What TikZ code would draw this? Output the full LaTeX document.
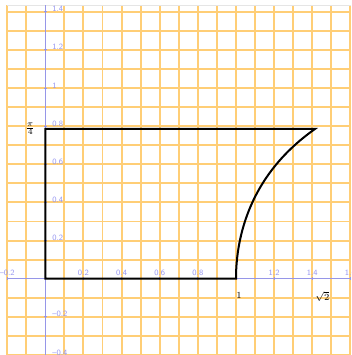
\documentclass[tikz,border=0pt]{standalone}
\usepackage{amsmath}
\definecolor{gridorange}{RGB}{255,206,118}
\definecolor{axisblue}{RGB}{150,150,232}
\definecolor{tickblue}{RGB}{150,150,240}
\tikzset{
	gridline/.style={gridorange, line width=1.4pt},
	axisline/.style={axisblue, line width=0.9pt},
	ticklbl/.style={tickblue, font=\sffamily\fontsize{6}{7}\selectfont, inner sep=0pt},
	marklbl/.style={font=\scriptsize, inner sep=0pt},
}
\begin{document}
\begin{tikzpicture}[x=5cm, y=5cm]
		\useasboundingbox (-0.2375, -0.4) rectangle (1.6031, 1.4615);

		% grid, leaving out the lines under the axes
		\foreach \i in {-2,-1,1,2,...,16}
			\draw[gridline] (\i/10, -0.4) -- (\i/10, 1.433);
		\foreach \j in {-4,-3,-2,-1,1,2,...,14}
			\draw[gridline] (-0.2, \j/10) -- (1.6031, \j/10);
		\draw[black!10, line width=0.6pt] (-0.2, 1.435) -- (1.6031, 1.435);

		\draw[axisline] (-0.2, 0) -- (1.6031, 0);
		\draw[axisline] (0, -0.4) -- (0, 1.433);

		\foreach \v/\t [count=\k] in {-0.2/--0.2, 0.2/0.2, 0.4/0.4, 0.6/0.6, 0.8/0.8, 1.2/1.2, 1.4/1.4, 1.6/1.6} {
			\draw[axisblue, line width=0.6pt] (\v, -1pt) -- (\v, 1pt);
			\node[ticklbl, anchor=base, yshift=2.5pt] (xt\k) at (\v, 0) {\t};
		}
		\foreach \v/\t [count=\k] in {-0.4/--0.4, -0.2/--0.2, 0.2/0.2, 0.4/0.4, 0.6/0.6, 0.8/0.8, 1/1, 1.2/1.2, 1.4/1.4} {
			\draw[axisblue, line width=0.6pt] (-1pt, \v) -- (1pt, \v);
			\node[ticklbl, anchor=base west, xshift=5pt] (yt\k) at (0, \v) {\t};
		}

		\coordinate (O) at (0, 0);
		\coordinate (P) at (0, {pi/4});
		\coordinate (Q) at ({sqrt(2)}, {pi/4});
		\coordinate (R) at (1, 0);

		\draw[line width=1.5pt] (O) -- (P) -- (Q)
			-- plot[domain=pi/4:0, samples=60, smooth] ({1/cos(\x r)}, \x) -- cycle;

		\node[marklbl, font=\footnotesize, anchor=east, xshift=-7.5pt] (pilbl) at (P) {$\frac{\pi}{4}$};
		\node[marklbl, anchor=north west, yshift=-9.7pt] (onelbl) at (R) {1};
		\node[marklbl, anchor=north west, yshift=-9.7pt] (rootlbl) at ({sqrt(2)}, 0) {$\sqrt{2}$};
\end{tikzpicture}
\end{document}
